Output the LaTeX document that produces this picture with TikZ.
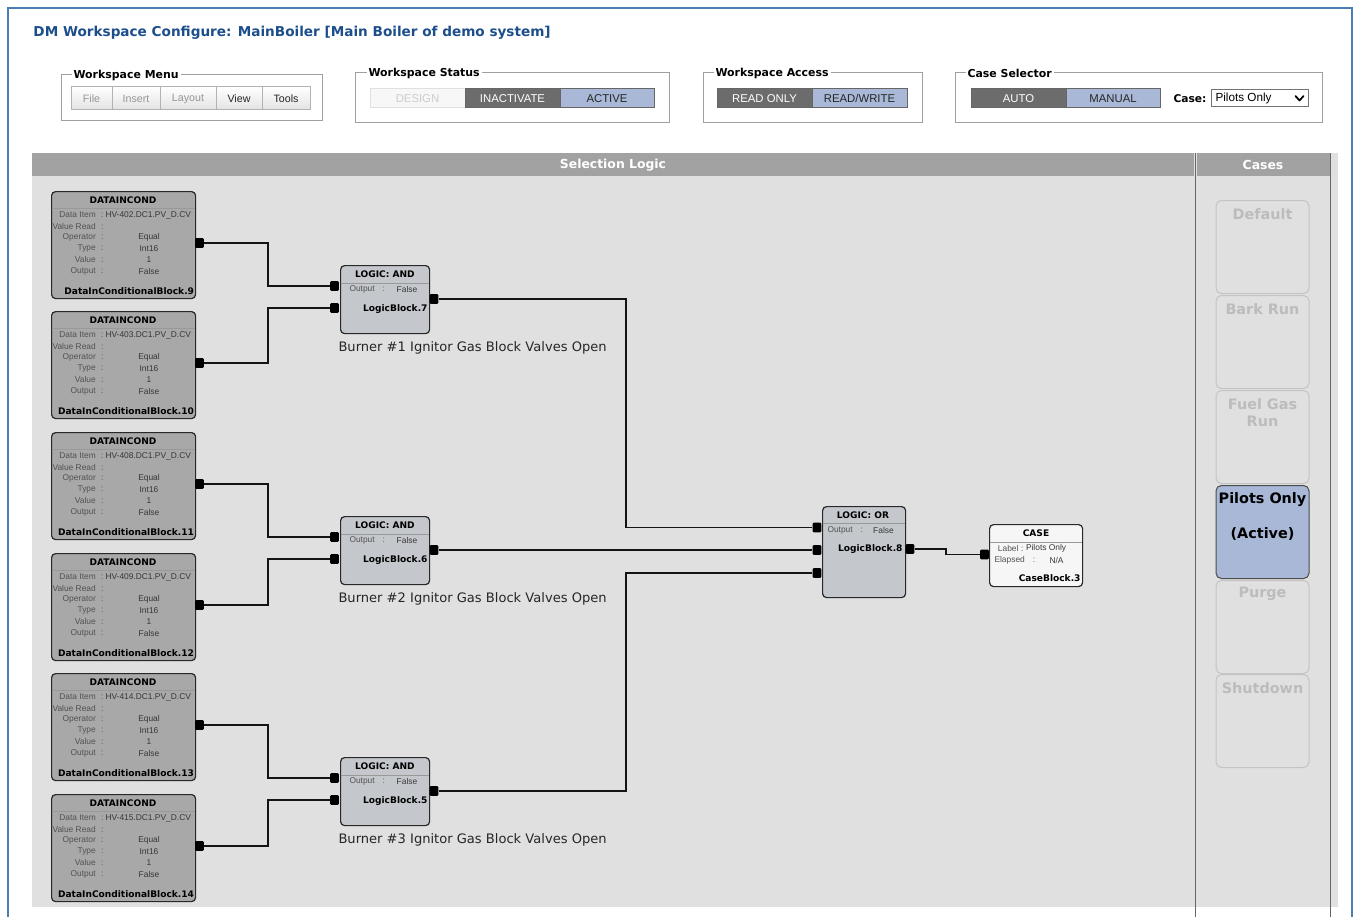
\documentclass[tikz,border=0pt]{standalone}
\usepackage{fontspec}
\setmainfont{Liberation Sans}
\newfontfamily\uibold{DejaVu Sans}
\newfontfamily\uifont{DejaVu Sans}

\definecolor{frameblue}{RGB}{74,126,178}
\definecolor{titleblue}{RGB}{28,78,140}
\definecolor{grpline}{RGB}{160,160,160}
\definecolor{btnline}{RGB}{178,178,178}
\definecolor{btngray}{RGB}{226,226,226}
\definecolor{offtext}{RGB}{150,150,150}
\definecolor{darkbtn}{RGB}{108,108,108}
\definecolor{activeblue}{RGB}{168,184,214}
\definecolor{panelbg}{RGB}{224,224,224}
\definecolor{barbg}{RGB}{162,162,162}
\definecolor{dgray}{RGB}{168,168,168}
\definecolor{lgray}{RGB}{196,200,204}
\definecolor{cwhite}{RGB}{246,246,246}
\definecolor{blockline}{RGB}{40,40,40}
\definecolor{keygray}{RGB}{82,82,82}
\definecolor{valgray}{RGB}{55,55,55}
\definecolor{wirecol}{RGB}{20,20,20}
\definecolor{caseline}{RGB}{196,196,196}
\definecolor{caseoff}{RGB}{188,188,188}

\tikzset{every picture/.style={line width=0.75pt}}
\tikzset{
  legend/.style={fill=white, anchor=west, inner xsep=1.5pt, inner ysep=0.5pt, font=\uibold\bfseries\fontsize{8.2}{10}\selectfont},
  mbtn/.style={draw=btnline, top color=white, bottom color=btngray, minimum height=17.25pt, inner sep=0pt, font=\fontsize{8}{9}\selectfont},
  sbtn/.style={minimum width=71.25pt, minimum height=14.25pt, inner sep=0pt, font=\fontsize{8.5}{9}\selectfont},
  offbtn/.style={sbtn, fill=darkbtn, draw=black!60, text=white},
  onbtn/.style={sbtn, fill=activeblue, draw=black!60, text=black!85},
  bartext/.style={text=white, font=\uibold\bfseries\fontsize{9.3}{11}\selectfont},
  dblock/.style={draw=blockline, line width=0.9pt, fill=dgray, rounded corners=3pt, anchor=north west, inner sep=0pt, minimum width=108pt, minimum height=80.25pt},
  lblock/.style={draw=blockline, line width=0.9pt, fill=lgray, rounded corners=3pt, anchor=north west, inner sep=0pt},
  sepline/.style={draw=black!40},
  bhead/.style={inner sep=0pt, font=\uibold\bfseries\fontsize{6.8}{8}\selectfont},
  bfoot/.style={inner sep=0pt, anchor=east, font=\uibold\bfseries\fontsize{6.8}{8}\selectfont},
  bkey/.style={inner sep=0pt, anchor=east, text=keygray, font=\fontsize{6.3}{7}\selectfont},
  bval/.style={inner sep=0pt, text=valgray, font=\fontsize{6.3}{7}\selectfont},
  port/.style={fill=black, minimum width=6.5pt, minimum height=7.2pt, inner sep=0pt, rounded corners=0.8pt},
  wire/.style={draw=wirecol, line width=1.4pt},
  casebtn/.style={draw=caseline, fill=panelbg, rounded corners=4pt, anchor=north, inner sep=0pt, minimum width=69.75pt, minimum height=69.75pt},
  casetxt/.style={text=caseoff, align=center, font=\uibold\bfseries\fontsize{10.8}{12.75}\selectfont},
  burner/.style={anchor=west, inner sep=0pt, text=black!85, font=\uifont\fontsize{9.8}{11}\selectfont}
}

\begin{document}
\begin{tikzpicture}[x=0.75pt,y=0.75pt,yscale=-1,xscale=1]
\useasboundingbox (0,0) rectangle (1353,917);

% page frame
\draw[frameblue, line width=1.5pt] (8,917) -- (8,8) -- (1352,8) -- (1352,917);

% Text Node
\node[anchor=west, inner sep=0pt, text=titleblue, font=\uibold\bfseries\fontsize{10.2}{12}\selectfont] (title) at (33,33) {DM Workspace Configure: MainBoiler [Main Boiler of demo system]};

% Workspace Menu
\draw[grpline] (61,75) rectangle (322,120);
\node[legend] (lgmenu) at (71,75.5) {Workspace Menu};
\node[mbtn, minimum width=30.75pt, text=offtext] (bfile) at (91.5,98.5) {File};
\node[mbtn, minimum width=36pt, text=offtext] (binsert) at (136,98.5) {Insert};
\node[mbtn, minimum width=42pt, text=offtext] (blayout) at (188,98.5) {Layout};
\node[mbtn, minimum width=34.5pt, text=black!85] (bview) at (239,98.5) {View};
\node[mbtn, minimum width=36pt, text=black!85] (btools) at (286,98.5) {Tools};

% Workspace Status
\draw[grpline] (355,73) rectangle (669,122);
\node[legend] (lgstatus) at (366,73.5) {Workspace Status};
\node[sbtn, fill=black!3, draw=black!12, text=black!20] (bdesign) at (417.5,98.5) {DESIGN};
\node[offbtn] (binact) at (512.5,98.5) {INACTIVATE};
\node[onbtn, minimum width=70.5pt] (bactive) at (607,98.5) {ACTIVE};

% Workspace Access
\draw[grpline] (703,73) rectangle (922,122);
\node[legend] (lgaccess) at (713,73.5) {Workspace Access};
\node[offbtn] (bronly) at (764.5,98.5) {READ ONLY};
\node[onbtn] (brw) at (859.5,98.5) {READ/WRITE};

% Case Selector
\draw[grpline] (955,73) rectangle (1322,122);
\node[legend] (lgcase) at (965,73.5) {Case Selector};
\node[offbtn] (bauto) at (1018.5,98.5) {AUTO};
\node[onbtn, minimum width=70.5pt] (bmanual) at (1113,98.5) {MANUAL};
\node[anchor=west, inner sep=0pt, font=\uibold\bfseries\fontsize{8}{9}\selectfont] (lcase) at (1173,98.5) {Case:};
\node[draw=black!55, fill=white, anchor=west, inner sep=0pt, minimum width=72.75pt, minimum height=12.75pt] (ddcase) at (1211,98.5) {};
\node[anchor=west, inner sep=0pt, font=\fontsize{8.8}{10}\selectfont] (ddtext) at (1215,98.5) {Pilots Only};
\draw[line width=1.3pt, line cap=round, line join=round] (1295.5,96) -- (1299.5,100.5) -- (1303.5,96);

% panels
\fill[panelbg] (32,153) rectangle (1338,907);
\fill[barbg] (32,153) rectangle (1194,176);
\fill[barbg] (1197,153) rectangle (1330,176);
\draw[black!60, line width=1.1pt] (1195.5,153) -- (1195.5,917);
\draw[black!60, line width=1.1pt] (1330.5,153) -- (1330.5,917);
\node[bartext] (hsel) at (613,165) {Selection Logic};
\node[bartext] (hcases) at (1263,165) {Cases};

% case list
\node[casebtn] (kdefault) at (1262.5,200) {};
\node[casebtn] (kbark) at (1262.5,295) {};
\node[casebtn] (kfuel) at (1262.5,390) {};
\node[casebtn, fill=activeblue, draw=black!70] (kpilots) at (1262.5,485) {};
\node[casebtn] (kpurge) at (1262.5,580) {};
\node[casebtn] (kshut) at (1262.5,674) {};
\node[casetxt] (tdefault) at (1262.5,214) {Default};
\node[casetxt] (tbark) at (1262.5,309) {Bark Run};
\node[casetxt] (tfuel) at (1262.5,412.5) {Fuel Gas\\Run};
\node[casetxt, text=black] (tpilots) at (1262.5,516.5) {Pilots Only\\[13.5pt](Active)};
\node[casetxt] (tpurge) at (1262.5,594) {Purge};
\node[casetxt] (tshut) at (1262.5,688) {Shutdown};

% data-in conditional blocks
\foreach \n/\t/\hv in {9/191/402, 10/311/403, 11/432/408, 12/553/409, 13/673/414, 14/794/415}{
  \node[dblock] (dc\n) at (51,\t) {};
  \draw[sepline] (51.5,\t+17) -- (194.5,\t+17);
  \node[bhead] (dch\n) at (123,\t+9) {DATAINCOND};
  \foreach \k/\dy [count=\i] in {Data Item/24, Value Read/35.5, Operator/46.5, Type/57.5, Value/68.5, Output/80}
    \node[bkey] (dk\n-\i) at (104,\t+\dy) {\k\hspace{4pt}:};
  \node[bval, anchor=west] (dv\n-1) at (105,\t+24) {HV-\hv.DC1.PV\_D.CV};
  \node[bval] (dv\n-3) at (149,\t+46.5) {Equal};
  \node[bval] (dv\n-4) at (149,\t+57.5) {Int16};
  \node[bval] (dv\n-5) at (149,\t+68.5) {1};
  \node[bval] (dv\n-6) at (149,\t+80) {False};
  \node[bfoot] (dcf\n) at (194.5,\t+100) {DataInConditionalBlock.\n};
  \node[port] (dcp\n) at (199.5,\t+52) {};
}

% AND blocks
\foreach \n/\t/\m in {7/265/1, 6/516/2, 5/757/3}{
  \node[lblock, minimum width=66.75pt, minimum height=51pt] (lb\n) at (340,\t) {};
  \draw[sepline] (340.5,\t+18) -- (428.5,\t+18);
  \node[bhead] (lbh\n) at (385,\t+9) {LOGIC: AND};
  \node[bkey, anchor=west] (lbk\n) at (349,\t+24) {Output\hspace{6pt}:};
  \node[bval] (lbv\n) at (407,\t+24) {False};
  \node[bfoot] (lbf\n) at (428,\t+44) {LogicBlock.\n};
  \node[port] (lbi\n-1) at (334.5,\t+21) {};
  \node[port] (lbi\n-2) at (334.5,\t+43) {};
  \node[port] (lbo\n) at (434,\t+34) {};
  \node[burner] (lbl\n) at (338,\t+83) {Burner \#\m\ Ignitor Gas Block Valves Open};
}

% OR block
\node[lblock, minimum width=62.25pt, minimum height=68.25pt] (lb8) at (822,506) {};
\draw[sepline] (822.5,523) -- (904.5,523);
\node[bhead] (lbh8) at (863,515) {LOGIC: OR};
\node[bkey, anchor=west] (lbk8) at (827,530) {Output\hspace{6pt}:};
\node[bval] (lbv8) at (883.5,530) {False};
\node[bfoot] (lbf8) at (903,549) {LogicBlock.8};
\node[port] (lbi8-1) at (817,527.5) {};
\node[port] (lbi8-2) at (817,550) {};
\node[port] (lbi8-3) at (817,573) {};
\node[port] (lbo8) at (910,549) {};

% case block
\node[lblock, fill=cwhite, minimum width=69.75pt, minimum height=46.5pt] (cb3) at (989,524) {};
\draw[sepline] (989.5,542) -- (1081.5,542);
\node[bhead] (cbh3) at (1036,533.5) {CASE};
\node[bkey] (cbk3-1) at (1024,548) {Label\hspace{2pt}:};
\node[bval, anchor=west] (cbv3-1) at (1025.5,548) {Pilots Only};
\node[bkey, anchor=west] (cbk3-2) at (994,560) {Elapsed\hspace{6pt}:};
\node[bval] (cbv3-2) at (1056.5,560) {N/A};
\node[bfoot] (cbf3) at (1081,578.5) {CaseBlock.3};
\node[port] (cbi3) at (984.5,554.5) {};

% wires
\foreach \a/\b in {9/7-1, 10/7-2, 11/6-1, 12/6-2, 13/5-1, 14/5-2}
  \draw[wire] (dcp\a.east) -- ++(63.5,0) |- (lbi\b.west);
\foreach \a/\b in {7/1, 6/2, 5/3}
  \draw[wire] (lbo\a.east) -- ++(187,0) |- (lbi8-\b.west);
\draw[wire] (lbo8.east) -- ++(31.5,0) |- (cbi3.west);

\end{tikzpicture}
\end{document}
